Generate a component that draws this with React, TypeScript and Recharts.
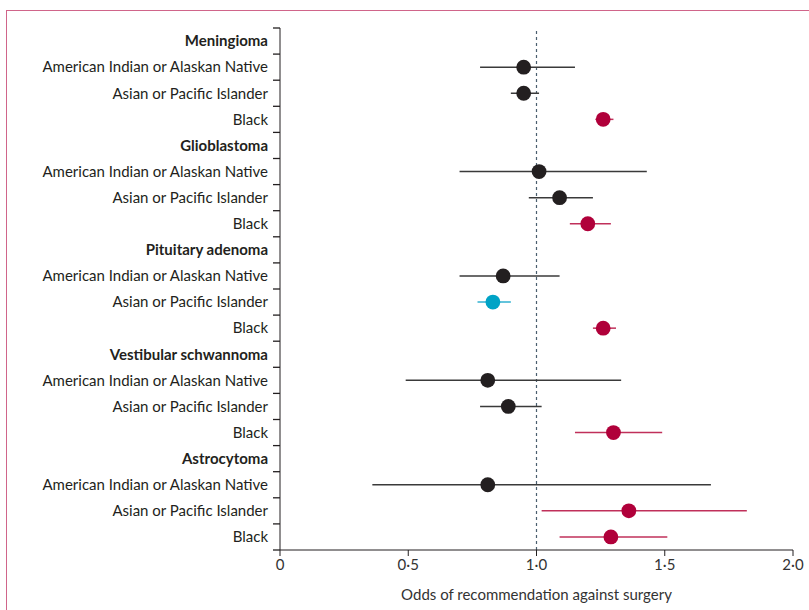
import {
  ErrorBar,
  ReferenceLine,
  Scatter,
  ScatterChart,
  XAxis,
  YAxis,
} from "recharts";

const tumours = [
  "Meningioma",
  "Glioblastoma",
  "Pituitary adenoma",
  "Vestibular schwannoma",
  "Astrocytoma",
];
const races = [
  "American Indian or Alaskan Native",
  "Asian or Pacific Islander",
  "Black",
];

// one entry per (tumour, race) row, in reading order
const oddsRatio = [0.95, 0.95, 1.26, 1.01, 1.09, 1.2, 0.87, 0.83, 1.26, 0.81, 0.89, 1.3, 0.81, 1.36, 1.29];
const ciLow = [0.78, 0.9, 1.23, 0.7, 0.97, 1.13, 0.7, 0.77, 1.22, 0.49, 0.78, 1.15, 0.36, 1.02, 1.09];
const ciHigh = [1.15, 1.01, 1.3, 1.43, 1.22, 1.29, 1.09, 0.9, 1.31, 1.33, 1.02, 1.49, 1.68, 1.82, 1.51];
// ns = not significant, up = higher odds, down = lower odds
const significance = ["ns", "ns", "up", "ns", "ns", "up", "ns", "down", "up", "ns", "ns", "up", "ns", "up", "up"];

const xTicks = [0, 0.5, 1, 1.5, 2];

const W = 809;
const H = 610;
const M = { top: 28, right: 16, bottom: 0, left: 0 };
const Y_AXIS_W = 280;
const X_AXIS_H = 60;
const FONT = 15;

const rowLabels: { text: string; header: boolean }[] = [];
tumours.forEach((t) => {
  rowLabels.push({ text: t, header: true });
  races.forEach((r) => rowLabels.push({ text: r, header: false }));
});
const nRows = rowLabels.length;
const halfBand = (H - M.top - M.bottom - X_AXIS_H) / nRows / 2;

const colours: Record<string, { dot: string; line: string }> = {
  ns: { dot: "#231f20", line: "#3a3a3a" },
  up: { dot: "#b0003a", line: "#c0305a" },
  down: { dot: "#00a3c6", line: "#30b0d0" },
};

const points = oddsRatio.map((or, i) => {
  const tumour = Math.floor(i / 3);
  const race = i % 3;
  return {
    x: or,
    y: tumour * 4 + 1 + race + 0.5,
    err: [+(or - ciLow[i]).toFixed(3), +(ciHigh[i] - or).toFixed(3)],
    sig: significance[i],
  };
});

const fmt = (v: number) => (v === 0 ? "0" : v.toFixed(1).replace(".", "·"));

// eslint-disable-next-line @typescript-eslint/no-explicit-any
const RowTick = (props: any) => {
  const { x, y, payload } = props;
  const idx = Math.floor(payload.value);
  const row = rowLabels[idx];
  return (
    <g>
      <line x1={x - 7} x2={x} y1={y - halfBand} y2={y - halfBand} stroke="#231f20" strokeWidth={1.3} />
      {idx === nRows - 1 && (
        <line x1={x - 7} x2={x} y1={y + halfBand} y2={y + halfBand} stroke="#231f20" strokeWidth={1.3} />
      )}
      <text
        x={x - 12}
        y={y}
        dy="0.35em"
        textAnchor="end"
        fontSize={FONT}
        fontWeight={row.header ? 700 : 400}
        fill="#231f20"
      >
        {row.text}
      </text>
    </g>
  );
};

// eslint-disable-next-line @typescript-eslint/no-explicit-any
const Dot = (props: any) => {
  const { cx, cy, payload } = props;
  return <circle cx={cx} cy={cy} r={7.4} fill={colours[payload.sig].dot} />;
};

export default function App() {
  return (
    <div
      style={{
        position: "fixed",
        left: 0,
        top: 0,
        width: W,
        height: H,
        background: "#fff",
        fontFamily: "Lato, 'Noto Sans', sans-serif",
        overflow: "hidden",
      }}
    >
      <div
        style={{
          position: "absolute",
          left: 6,
          top: 10,
          width: 900,
          height: 700,
          borderTop: "1.5px solid #d0658a",
          borderLeft: "1.5px solid #d0658a",
        }}
      />
      <div style={{ position: "absolute", left: 0, top: 0 }}>
        <ScatterChart width={W} height={H} margin={M}>
          <XAxis
            type="number"
            dataKey="x"
            domain={[0, 2]}
            ticks={xTicks}
            tickFormatter={fmt}
            height={X_AXIS_H}
            tickSize={6}
            tickMargin={3}
            stroke="#231f20"
            tick={{ fontSize: FONT, fill: "#333" }}
            label={{
              value: "Odds of recommendation against surgery",
              position: "insideBottom",
              offset: 10,
              fontSize: FONT,
              fill: "#333",
            }}
          />
          <YAxis
            type="number"
            dataKey="y"
            domain={[0, nRows]}
            reversed
            ticks={rowLabels.map((_, i) => i + 0.5)}
            interval={0}
            width={Y_AXIS_W}
            tickLine={false}
            tickSize={0}
            tickMargin={0}
            stroke="#231f20"
            tick={<RowTick />}
          />
          <ReferenceLine x={1} stroke="#4a5e6e" strokeDasharray="3 3" strokeWidth={1.2} />
          {Object.keys(colours).map((k) => (
            <Scatter
              key={k}
              data={points.filter((p) => p.sig === k)}
              shape={<Dot />}
              isAnimationActive={false}
            >
              <ErrorBar
                dataKey="err"
                direction="x"
                width={0}
                stroke={colours[k].line}
                strokeWidth={1.5}
              />
            </Scatter>
          ))}
        </ScatterChart>
      </div>
    </div>
  );
}
